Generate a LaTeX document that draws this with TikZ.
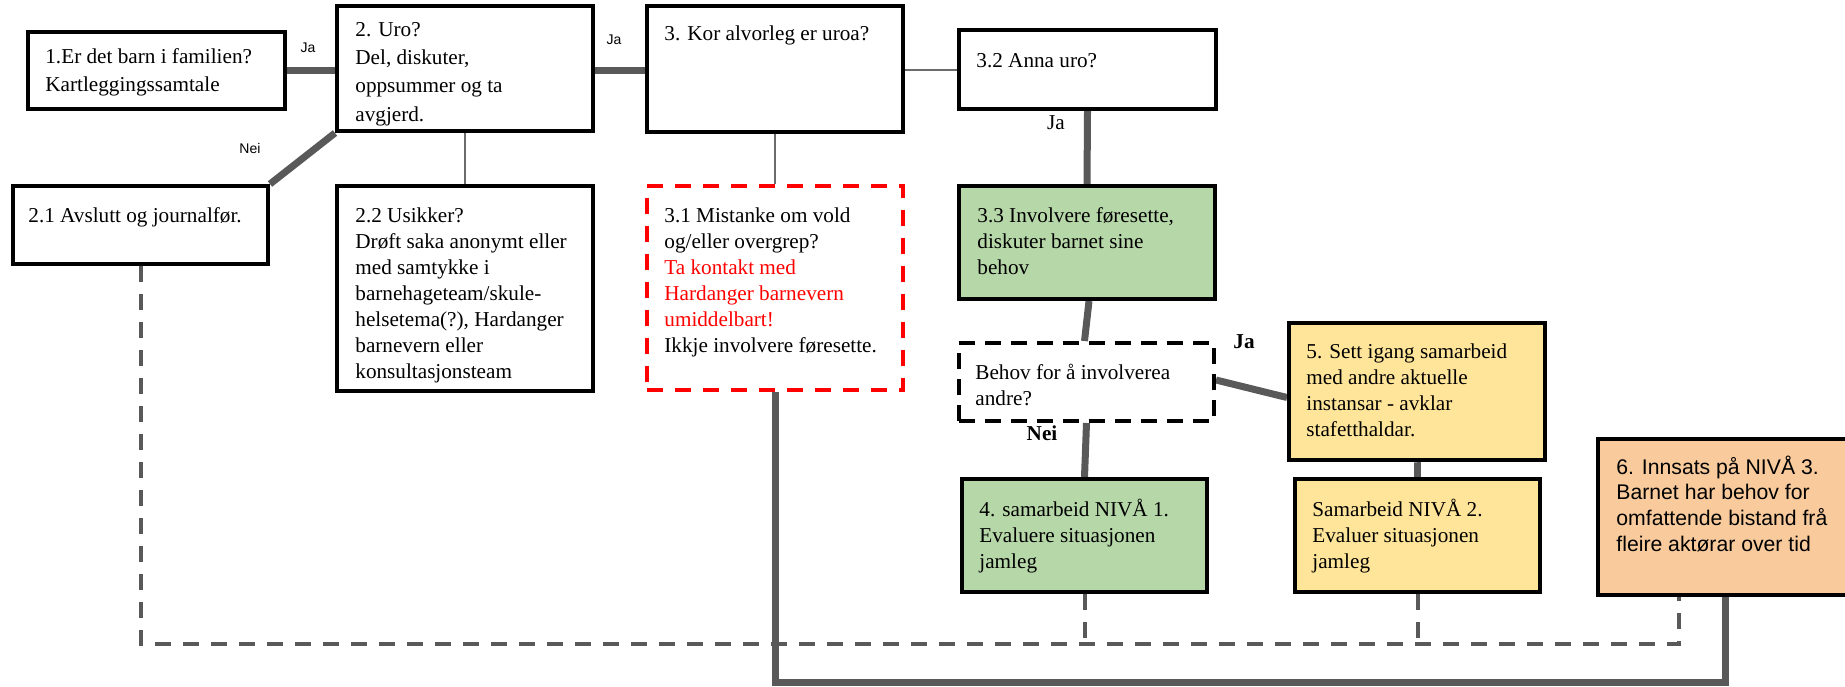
\documentclass[tikz,border=0pt]{standalone}
\usepackage{fontspec}
\setmainfont{Liberation Serif}
\newfontfamily\arialf{Liberation Sans}
\usetikzlibrary{calc,backgrounds}
\definecolor{thickgray}{HTML}{595959}
\definecolor{thingray}{HTML}{6B6B6B}
\definecolor{boxgreen}{HTML}{B6D7A8}
\definecolor{boxyellow}{HTML}{FFE599}
\definecolor{boxorange}{HTML}{F9CB9C}
\newcommand\mytab[1]{\begin{tabular}[t]{@{}l@{}}#1\end{tabular}}
\begin{document}
\begin{tikzpicture}[x=0.5pt,y=-0.5pt,
  box/.style={draw=black,fill=white,line width=2pt,inner sep=0pt,anchor=north west},
  sz/.style 2 args={minimum width=#1*0.5pt,minimum height=#2*0.5pt},
  redbox/.style={draw=red,fill=white,line width=2pt,dash pattern=on 8pt off 6pt,inner sep=0pt,anchor=north west},
  blkdash/.style={draw=black,fill=white,line width=2pt,dash pattern=on 8pt off 5pt,inner sep=0pt,anchor=north west},
  txt/.style={anchor=base west,inner sep=0pt,font=\fontsize{10.6}{13}\selectfont},
  wtxt/.style={anchor=base west,inner sep=0pt,font=\fontsize{10.6}{14.2}\selectfont},
  stxt/.style={anchor=base west,inner sep=0pt,font=\arialf\fontsize{10.6}{12.85}\selectfont},
  lbl/.style={inner sep=0pt,font=\arialf\fontsize{7}{8}\selectfont},
  slbl/.style={inner sep=0pt,font=\fontsize{10.6}{13}\selectfont},
  blbl/.style={inner sep=0pt,font=\bfseries\fontsize{10.6}{13}\selectfont},
  thickc/.style={draw=thickgray,line width=3.5pt},
  thinc/.style={draw=thingray,line width=1pt},
  dashc/.style={draw=thickgray,line width=2pt,dash pattern=on 8pt off 6pt}]
\clip (0,0) rectangle (1845,686);

% boxes
\node[box,sz={257}{77}] (b1) at (26,30) {};
\node[box,sz={256}{125}] (b2) at (335,4) {};
\node[box,sz={256}{126}] (b3) at (645,4) {};
\node[box,sz={257}{79}] (b32) at (957,28) {};
\node[box,sz={255}{78}] (b21) at (11,184) {};
\node[box,sz={256}{205}] (b22) at (335,184) {};
\node[redbox,sz={256}{204}] (b31) at (645,184) {};
\node[box,fill=boxgreen,sz={256}{113}] (b33) at (957,184) {};
\node[blkdash,sz={255}{78}] (q) at (957,341) {};
\node[box,fill=boxyellow,sz={256}{137}] (b5) at (1287,321) {};
\node[box,fill=boxgreen,sz={245}{113}] (b4) at (960,477) {};
\node[box,fill=boxyellow,sz={245}{113}] (n2) at (1293,477) {};
\node[box,fill=boxorange,sz={254}{156}] (b6) at (1596,437) {};

% connectors (behind the boxes)
\coordinate (dl) at (139,644);
\coordinate (dr) at (1679,644);
\coordinate (tl) at (773,682);
\begin{scope}[on background layer]
\fill[white] (0,0) rectangle (1845,686);
\draw[dashc] (b21.south) -- (b21.south |- dl) -- (dr) -- (dr |- b6.south);
\draw[dashc] (b4.south) -- (b4.south |- dl);
\draw[dashc] (n2.south) -- (n2.south |- dl);
\draw[thickc] (b31.south) -- (b31.south |- tl) -- (b6.south |- tl) -- (b6.south);
\draw[thickc] (b1.east) -- (b1.east -| b2.west);
\draw[thickc] (b2.east |- b1.east) -- (b3.west |- b1.east);
\draw[thickc] (b2.south west) -- (b21.north east);
\draw[thinc] (b2.south) -- (b22.north);
\draw[thinc] (b3.south) -- (b31.north);
\draw[thinc] (b3.east |- b32.west) -- (b32.west);
\draw[thickc] (b32.south) -- (b33.north);
\draw[thickc] ($(b33.south)+(2,0)$) -- ($(q.north)+(-2,0)$);
\draw[thickc] ($(q.east)+(0,-2)$) -- ($(b5.west)+(0,6)$);
\draw[thickc] (q.south) -- (b4.north);
\draw[thickc] (b5.south) -- (n2.south |- b5.south) -- (n2.north);
\end{scope}

% texts
\node[wtxt] (t1) at (45,63) {\mytab{1.Er det barn i familien?\\Kartleggingssamtale}};
\node[wtxt] (t2) at (355,36) {\mytab{2. Uro?\\Del, diskuter,\\oppsummer og ta\\avgjerd.}};
\node[txt] (t3) at (664,40) {3. Kor alvorleg er uroa?};
\node[txt] (t32) at (976,67) {3.2 Anna uro?};
\node[txt] (t21) at (28,222) {2.1 Avslutt og journalfør.};
\node[txt] (t22) at (355,222) {\mytab{2.2 Usikker?\\Drøft saka anonymt eller\\med samtykke i\\barnehageteam/skule-\\helsetema(?), Hardanger\\barnevern eller\\konsultasjonsteam}};
\node[txt] (t31) at (664,222) {\mytab{3.1 Mistanke om vold\\og/eller overgrep?\\\textcolor{red}{Ta kontakt med}\\\textcolor{red}{Hardanger barnevern}\\\textcolor{red}{umiddelbart!}\\Ikkje involvere føresette.}};
\node[txt] (t33) at (977,222) {\mytab{3.3 Involvere føresette,\\diskuter barnet sine\\behov}};
\node[txt] (tq) at (975,379) {\mytab{Behov for å involverea\\andre?}};
\node[txt] (t5) at (1306,358) {\mytab{5. Sett igang samarbeid\\med andre aktuelle\\instansar - avklar\\stafetthaldar.}};
\node[txt] (t4) at (979,516) {\mytab{4. samarbeid NIVÅ 1.\\Evaluere situasjonen\\jamleg}};
\node[txt] (tn2) at (1312,516) {\mytab{Samarbeid NIVÅ 2.\\Evaluer situasjonen\\jamleg}};
\node[stxt] (t6) at (1616,474) {\mytab{6. Innsats på NIVÅ 3.\\Barnet har behov for\\omfattende bistand frå\\fleire aktørar over tid}};

% labels
\node[lbl] (l1) at (308,48) {Ja};
\node[lbl] (l2) at (614,40) {Ja};
\node[lbl] (l3) at (250,148) {Nei};
\node[slbl] (l4) at (1056,123) {Ja};
\node[blbl] (l5) at (1244,342) {Ja};
\node[blbl] (l6) at (1042,433) {Nei};
\end{tikzpicture}
\end{document}
